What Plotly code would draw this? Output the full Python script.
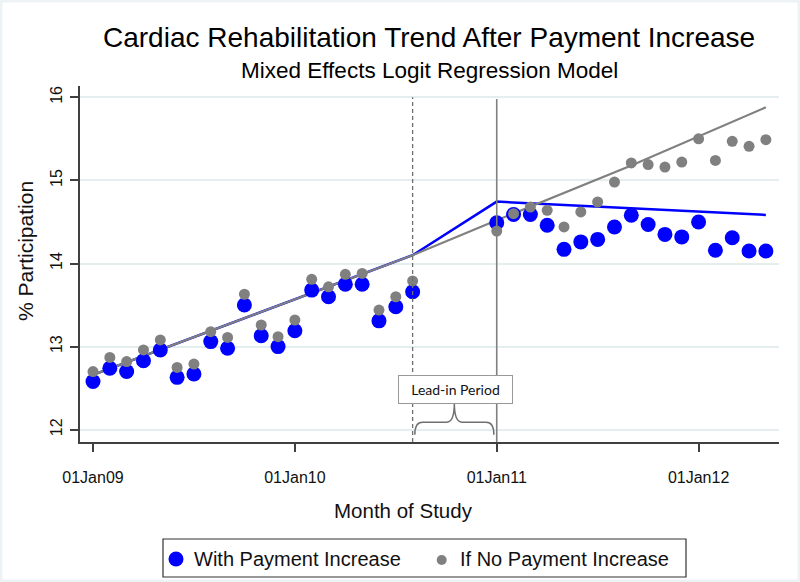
import plotly.graph_objects as go

# ---------------- data (month index: 0 = Jan 2009) ----------------
months = [0, 1, 2, 3, 4, 5, 6, 7, 8, 9, 10, 11, 12, 13, 14, 15, 16, 17, 18, 19,
          24, 25, 26, 27, 28, 29, 30, 31, 32, 33, 34, 35, 36, 37, 38, 39, 40]

with_increase = [12.58, 12.74, 12.70, 12.83, 12.96, 12.63, 12.67, 13.06, 12.98, 13.50,
                 13.13, 13.00, 13.19, 13.68, 13.60, 13.75, 13.75, 13.31, 13.48, 13.66,
                 14.49, 14.59, 14.59, 14.46, 14.17, 14.26, 14.29, 14.44, 14.58, 14.47,
                 14.35, 14.32, 14.50, 14.16, 14.31, 14.15, 14.15]

no_increase = [12.70, 12.87, 12.82, 12.96, 13.08, 12.75, 12.79, 13.18, 13.11, 13.63,
               13.26, 13.12, 13.32, 13.81, 13.72, 13.87, 13.88, 13.44, 13.60, 13.79,
               14.39, 14.60, 14.68, 14.64, 14.44, 14.62, 14.74, 14.98, 15.21, 15.19,
               15.16, 15.22, 15.50, 15.24, 15.47, 15.41, 15.49]

# model fitted lines (vertices)
fit_with_months = [0, 19, 24, 40]
fit_with = [12.66, 14.10, 14.745, 14.585]
fit_without_months = [0, 19, 24, 32, 40]
fit_without = [12.66, 14.10, 14.52, 15.18, 15.88]

tick_months = [0, 12, 24, 36]
tick_labels = ["01Jan09", "01Jan10", "01Jan11", "01Jan12"]
y_ticks = [12, 13, 14, 15, 16]

lead_in_start = 19   # Aug 2010
payment_start = 24   # Jan 2011

BLUE = "#0000ff"
GRAY = "#808080"
FONT = "Liberation Sans, Arial, sans-serif"

# ---------------- layout geometry ----------------
FIG_W, FIG_H = 800, 582
L, R, T, B = 80, 21, 86, 140
PW = FIG_W - L - R
PH = FIG_H - T - B
X_RANGE = [-0.773, 40.78]
Y_RANGE = [11.852, 16.136]


def px(x):
    return (x - L) / PW


def py(y):
    return (FIG_H - B - y) / PH


fig = go.Figure()

fig.add_trace(go.Scatter(x=fit_with_months, y=fit_with, mode="lines",
                         line=dict(color=BLUE, width=2.5), showlegend=False,
                         hoverinfo="skip"))
fig.add_trace(go.Scatter(x=fit_without_months, y=fit_without, mode="lines",
                         line=dict(color=GRAY, width=2.2), showlegend=False,
                         hoverinfo="skip"))
fig.add_trace(go.Scatter(x=months, y=with_increase, mode="markers",
                         name="With Payment Increase",
                         marker=dict(color=BLUE, size=15), showlegend=False))
fig.add_trace(go.Scatter(x=months, y=no_increase, mode="markers",
                         name="If No Payment Increase",
                         marker=dict(color=GRAY, size=11), showlegend=False))

shapes = []
# vertical reference lines
shapes.append(dict(type="line", xref="x", yref="y", x0=lead_in_start, x1=lead_in_start,
                   y0=Y_RANGE[0], y1=16.0, line=dict(color="#707070", width=1.3, dash="4px,3px")))
shapes.append(dict(type="line", xref="x", yref="y", x0=payment_start, x1=payment_start,
                   y0=Y_RANGE[0], y1=15.98, line=dict(color=GRAY, width=1.6)))

# curly brace under the lead-in label
bx0, bx1 = 19.13, 23.83
bm = (bx0 + bx1) / 2
yb, yh, yp = 11.94, 12.09, 12.32
brace = (f"M {bx0},{yb} Q {bx0},{yh} {bx0+0.45},{yh} L {bm-0.45},{yh} "
         f"Q {bm},{yh} {bm},{yp} Q {bm},{yh} {bm+0.45},{yh} "
         f"L {bx1-0.45},{yh} Q {bx1},{yh} {bx1},{yb}")
shapes.append(dict(type="path", xref="x", yref="y", path=brace,
                   line=dict(color="#707070", width=1.5)))

# manual legend
shapes.append(dict(type="rect", xref="paper", yref="paper",
                   x0=px(163), x1=px(686), y0=py(577), y1=py(539),
                   line=dict(color="#333333", width=1.2), fillcolor="white"))
shapes.append(dict(type="circle", xref="paper", yref="paper",
                   xsizemode="pixel", ysizemode="pixel",
                   xanchor=px(176), yanchor=py(559),
                   x0=-7.5, x1=7.5, y0=-7.5, y1=7.5,
                   fillcolor=BLUE, line=dict(width=0)))
shapes.append(dict(type="circle", xref="paper", yref="paper",
                   xsizemode="pixel", ysizemode="pixel",
                   xanchor=px(441.7), yanchor=py(560),
                   x0=-5, x1=5, y0=-5, y1=5,
                   fillcolor=GRAY, line=dict(width=0)))
# faint outer frame
shapes.append(dict(type="rect", xref="paper", yref="paper",
                   x0=px(0), x1=px(800), y0=py(582), y1=py(0),
                   line=dict(color="#edf2f4", width=5)))

annotations = [
    dict(text="Cardiac Rehabilitation Trend After Payment Increase",
         xref="paper", yref="paper", x=px(428.7), y=py(38), xanchor="center",
         yanchor="middle", showarrow=False,
         font=dict(family=FONT, size=28, color="#000000")),
    dict(text="Mixed Effects Logit Regression Model",
         xref="paper", yref="paper", x=px(429), y=py(70.5), xanchor="center",
         yanchor="middle", showarrow=False,
         font=dict(family=FONT, size=22.5, color="#000000")),
    dict(text="Month of Study", xref="paper", yref="paper", x=px(403), y=py(510),
         xanchor="center", yanchor="middle", showarrow=False,
         font=dict(family=FONT, size=20.5, color="#111111")),
    dict(text="% Participation", xref="paper", yref="paper", x=px(25), y=py(251),
         xanchor="center", yanchor="middle", showarrow=False, textangle=-90,
         font=dict(family=FONT, size=21, color="#111111")),
    dict(text="Lead-in Period", xref="x", yref="y", x=21.55, y=12.488,
         xanchor="center", yanchor="middle", showarrow=False,
         width=111, height=25, borderpad=1, bordercolor="#999999", borderwidth=1,
         bgcolor="white", font=dict(family="Lato, Open Sans, sans-serif", size=14,
                                    color="#111111")),
    dict(text="With Payment Increase", xref="paper", yref="paper", x=px(192),
         y=py(559), xanchor="left", yanchor="middle", showarrow=False,
         font=dict(family=FONT, size=20, color="#111111")),
    dict(text="If No Payment Increase", xref="paper", yref="paper", x=px(458),
         y=py(559), xanchor="left", yanchor="middle", showarrow=False,
         font=dict(family=FONT, size=20, color="#111111")),
]

fig.update_layout(
    width=FIG_W, height=FIG_H,
    margin=dict(l=L, r=R, t=T, b=B),
    paper_bgcolor="white", plot_bgcolor="white",
    showlegend=False,
    shapes=shapes, annotations=annotations,
    xaxis=dict(range=X_RANGE, tickvals=tick_months, ticktext=tick_labels,
               showgrid=False, zeroline=False, showline=True,
               linecolor="#404040", linewidth=1.6,
               ticks="outside", ticklen=8, tickwidth=1.5, tickcolor="#404040",
               ticklabelstandoff=12,
               tickfont=dict(family=FONT, size=16, color="#111111")),
    yaxis=dict(range=Y_RANGE, tickvals=y_ticks, showgrid=True,
               gridcolor="#e5eeef", gridwidth=1.5, zeroline=False,
               showline=True, linecolor="#404040", linewidth=1.6,
               ticks="outside", ticklen=8, tickwidth=1.5, tickcolor="#404040",
               tickangle=-90, ticklabelstandoff=2,
               tickfont=dict(family=FONT, size=16, color="#111111")),
)

fig.write_html("out.html",
               config={"displayModeBar": False},
               post_script="document.body.style.margin='0';"
                           "document.body.style.overflow='hidden';")
